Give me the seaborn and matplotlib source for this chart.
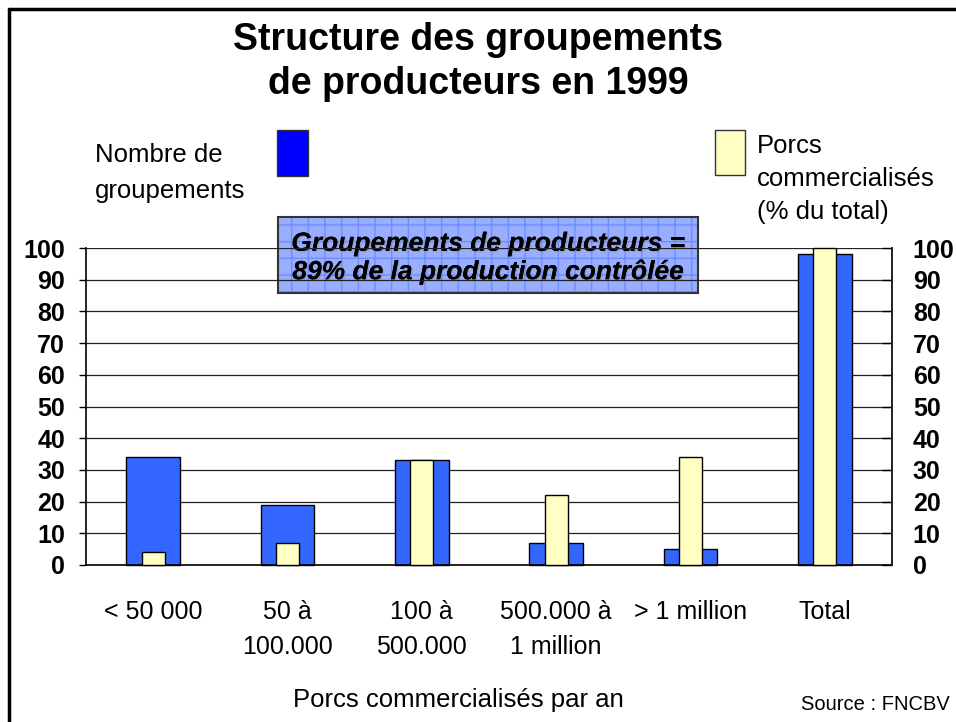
import matplotlib
matplotlib.use('Agg')
import matplotlib.pyplot as plt
import matplotlib.patheffects as pe
from matplotlib.patches import Rectangle
from matplotlib.lines import Line2D
import seaborn as sns

# data
categories = ['< 50 000', '50 à\n100.000', '100 à\n500.000',
              '500.000 à\n1 million', '> 1 million', 'Total']
nb_groupements = [34, 19, 33, 7, 5, 98]
porcs_pct = [4, 7, 33, 22, 34, 100]
yticks = list(range(0, 101, 10))

sns.set_style('white')
plt.rcParams['font.family'] = ['Liberation Sans', 'DejaVu Sans']
plt.rcParams['text.color'] = 'black'
plt.rcParams['axes.labelcolor'] = 'black'
plt.rcParams['xtick.color'] = 'black'
plt.rcParams['ytick.color'] = 'black'

W, H = 956, 722
fig = plt.figure(figsize=(W / 100, H / 100), dpi=100)
ax = fig.add_axes([86 / W, 1 - 565 / H, 806 / W, 317 / H])
ax.patch.set_alpha(0)

blue = '#3366ff'
yellow = '#ffffc4'

sns.barplot(x=categories, y=nb_groupements, color=blue, saturation=1,
            width=0.4, edgecolor='black', linewidth=1, ax=ax, zorder=2)
sns.barplot(x=categories, y=porcs_pct, color=yellow, saturation=1,
            width=0.17, edgecolor='black', linewidth=1, ax=ax, zorder=3)
for p in ax.patches:
    p.set_clip_on(False)

ax.set_xlim(-0.5, len(categories) - 0.5)
ax.set_ylim(0, 100)
ax.set_yticks(yticks)
ax.set_yticklabels([str(v) for v in yticks], fontsize=18, fontweight='bold')
ax.tick_params(axis='y', direction='out', length=5, width=1, pad=10, colors='black')
ax.tick_params(axis='x', which='major', length=0, pad=25, labelsize=18, labelcolor='black')
for lab in ax.get_xticklabels():
    lab.set_linespacing(1.6)
ax.set_xticks([i + 0.5 for i in range(len(categories) - 1)], minor=True)
ax.tick_params(axis='x', which='minor', direction='in', length=5, width=1, color='#555555')
ax.set_xlabel('')
ax.set_ylabel('')

ax.set_axisbelow(True)
ax.yaxis.grid(True, color='#222222', linewidth=0.9)
for s in ['left', 'right', 'bottom']:
    ax.spines[s].set_visible(True)
    ax.spines[s].set_color('black')
    ax.spines[s].set_linewidth(1.2)
ax.spines['top'].set_visible(False)

ax2 = ax.twinx()
ax2.set_ylim(0, 100)
ax2.set_yticks(yticks)
ax2.set_yticklabels([str(v) for v in yticks], fontsize=18, fontweight='bold')
ax2.tick_params(axis='y', direction='in', length=7, width=1, pad=15, colors='black')
for s in ['left', 'top', 'bottom']:
    ax2.spines[s].set_visible(False)
ax2.spines['right'].set_linewidth(1.2)
ax2.patch.set_alpha(0)

# annotation box, behind the gridlines
bx0, by0, bx1, by1 = 278, 217, 698, 293
box_fill = Rectangle((bx0 / W, 1 - by1 / H), (bx1 - bx0) / W, (by1 - by0) / H,
                     transform=fig.transFigure, facecolor='#9aaeff',
                     edgecolor='#6f8cff', hatch='+', linewidth=0,
                     clip_on=False, zorder=0.2)
ax.add_patch(box_fill)
box_edge = Rectangle((bx0 / W, 1 - by1 / H), (bx1 - bx0) / W, (by1 - by0) / H,
                     transform=fig.transFigure, fill=False, edgecolor='#333333',
                     linewidth=1.5, clip_on=False, zorder=0.25)
ax.add_patch(box_edge)
ax.text((bx0 + bx1) / 2 / W, 1 - 258 / H,
        'Groupements de producteurs =\n89% de la production contrôlée',
        transform=fig.transFigure, ha='center', va='center', fontsize=19,
        fontweight='bold', fontstyle='italic', linespacing=1.2, zorder=0.3,
        color='black',
        path_effects=[pe.withSimplePatchShadow(offset=(1, -1), shadow_rgbFace='#888888', alpha=0.4),
                      pe.Normal()])

# title
fig.text(0.5, 1 - 62 / H, 'Structure des groupements\nde producteurs en 1999',
         ha='center', va='center', fontsize=27, fontweight='bold', linespacing=1.3)

# legend, drawn by hand like the original slide
fig.patches.append(Rectangle((277 / W, 1 - 176 / H), 31 / W, 46 / H,
                             transform=fig.transFigure, facecolor='#0000ff',
                             edgecolor='#333333', linewidth=1))
fig.text(95 / W, 1 - 173 / H, 'Nombre de\ngroupements', ha='left', va='center',
         fontsize=18.5, linespacing=1.6)
fig.patches.append(Rectangle((715 / W, 1 - 175 / H), 30 / W, 45 / H,
                             transform=fig.transFigure, facecolor=yellow,
                             edgecolor='#333333', linewidth=1))
fig.text(757 / W, 1 - 179 / H, 'Porcs\ncommercialisés\n(% du total)',
         ha='left', va='center', fontsize=18.5, linespacing=1.45)

fig.text(458 / W, 1 - 700 / H, 'Porcs commercialisés par an',
         ha='center', va='center', fontsize=18.5)
fig.text(950 / W, 1 - 704 / H, 'Source : FNCBV', ha='right', va='center', fontsize=14.5)

# slide frame
fig.add_artist(Line2D([9 / W, 9 / W], [0, 1 - 9 / H], transform=fig.transFigure,
                      color='black', linewidth=2.5))
fig.add_artist(Line2D([9 / W, 1], [1 - 9 / H, 1 - 9 / H], transform=fig.transFigure,
                      color='black', linewidth=2.5))

fig.savefig('out.png', dpi=100)
